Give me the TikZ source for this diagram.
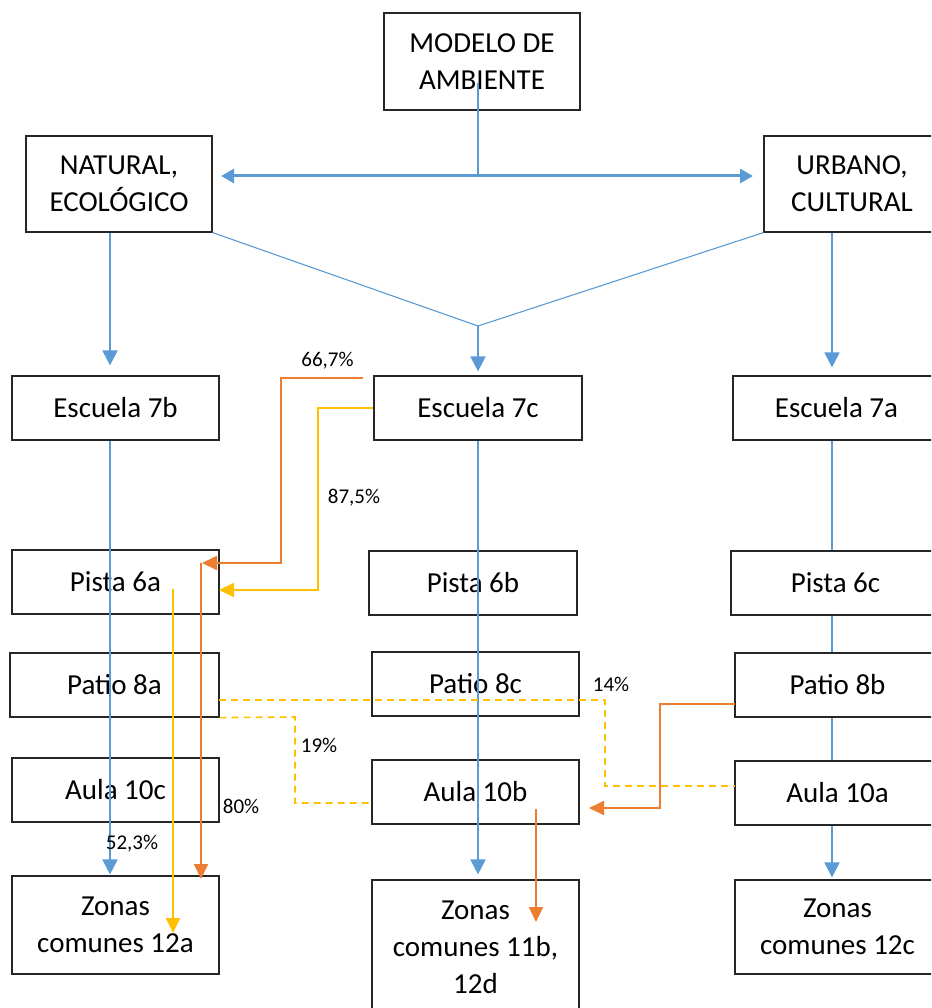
\documentclass[tikz,border=0pt]{standalone}
\usepackage{fontspec}
\setmainfont{Carlito}
\usetikzlibrary{arrows.meta}
\definecolor{cblue}{HTML}{5B9BD5}
\definecolor{corange}{HTML}{ED7D31}
\definecolor{cyellow}{HTML}{FFC000}
\begin{document}
\begin{tikzpicture}[x=1pt,y=-1pt,
  box/.style={draw=black!85, line width=1.2pt, fill=white, inner sep=0pt, align=center, font=\fontsize{29}{37}\selectfont},
  sbox/.style={box, minimum width=207pt, minimum height=64pt},
  lbl/.style={font=\fontsize{21}{25}\selectfont, inner sep=0pt},
  bline/.style={draw=cblue, line width=2pt},
  bthin/.style={draw=cblue, line width=1.1pt},
  barrow/.style={bline, -{Triangle[width=15pt,length=15pt]}},
  dblarrow/.style={draw=cblue, line width=3pt, {Triangle[width=14pt,length=13pt]}-{Triangle[width=14pt,length=13pt]}},
  oarrow/.style={draw=corange, line width=2pt, -{Triangle[width=14pt,length=15pt]}},
  yarrow/.style={draw=cyellow, line width=2pt, -{Triangle[width=14pt,length=15pt]}},
  ydash/.style={draw=cyellow, line width=1.6pt, dash pattern=on 7pt off 5pt}
]
\useasboundingbox (0,0) rectangle (931,1008);
\clip (0,0) rectangle (931,1008);

% column guides
\coordinate (colL) at (110,0);
\coordinate (colM) at (478,0);
\coordinate (colR) at (832,0);

% top boxes
\node[box, minimum width=196pt, minimum height=97pt] (modelo) at (482,61.5) {MODELO DE\\AMBIENTE};
\node[box, minimum width=186pt, minimum height=96pt] (natural) at (119,184) {NATURAL,\\ECOLÓGICO};
\node[box, minimum width=176pt, minimum height=96pt] (urbano) at (852,184) {URBANO,\\CULTURAL};

% rows
\node[sbox] (e7b) at (115.5,408) {Escuela 7b};
\node[sbox, minimum width=208pt] (e7c) at (478,408) {Escuela 7c};
\node[sbox] (e7a) at (836.5,408) {Escuela 7a};

\node[sbox] (p6a) at (115.5,582) {Pista 6a};
\node[sbox, minimum width=208pt] (p6b) at (473,583) {Pista 6b};
\node[sbox, minimum width=209pt] (p6c) at (835.5,583) {Pista 6c};

\node[sbox, minimum width=209pt] (pa8a) at (114.5,685) {Patio 8a};
\node[sbox] (pa8c) at (475.5,684) {Patio 8c};
\node[sbox, minimum width=205pt] (pa8b) at (837.5,685) {Patio 8b};

\node[sbox] (a10c) at (115.5,790) {Aula 10c};
\node[sbox] (a10b) at (475.5,792) {Aula 10b};
\node[sbox, minimum width=205pt] (a10a) at (837.5,793) {Aula 10a};

\node[sbox, minimum height=98pt] (z12a) at (115.5,925) {Zonas\\comunes 12a};
\node[sbox, minimum height=135pt] (z11b) at (475.5,947.5) {Zonas\\comunes 11b,\\12d};
\node[sbox, minimum width=205pt, minimum height=94pt] (z12c) at (837.5,927) {Zonas\\comunes 12c};

% top connectors
\coordinate (m1) at (478,83);
\coordinate (m2) at (478,176);
\coordinate (dl) at (221,176);
\coordinate (dr) at (753,176);
\coordinate (v) at (478,326);
\draw[bthin] (m1) -- (m2);
\draw[dblarrow] (dl) -- (dr);
\draw[bthin] (natural.south east) -- (v) -- (urbano.south west);
\draw[barrow, shorten >=4pt] (v) -- (e7c.north -| colM);
\draw[barrow, shorten >=10pt] (natural.south -| colL) -- (e7b.north -| colL);
\draw[barrow, shorten >=8pt] (urbano.south -| colR) -- (e7a.north -| colR);

% right column (behind boxes look)
\draw[bline] (e7a.south -| colR) -- (p6c.north -| colR);
\draw[bline] (p6c.south -| colR) -- (pa8b.north -| colR);
\draw[bline] (pa8b.south -| colR) -- (a10a.north -| colR);
\draw[barrow, shorten >=2pt] (a10a.south -| colR) -- (z12c.north -| colR);

% left and middle columns (over boxes)
\draw[barrow, shorten >=1pt] (e7b.south -| colL) -- (z12a.north -| colL);
\draw[barrow, shorten >=5pt] (e7c.south -| colM) -- (z11b.north -| colM);

% dashed yellow links
\coordinate (d1s) at (219,700);
\coordinate (d1e) at (735,786);
\draw[ydash] (d1s) -- (605,700) -- (605,786) -- (d1e);
\coordinate (d2e) at (372,803);
\draw[ydash] (pa8a.south east) -- (295,717) -- (295,803) -- (d2e);

% orange and yellow arrows
\coordinate (o1s) at (363,378);
\coordinate (o1t) at (202,563);
\draw[oarrow] (o1s) -- (281,378) -- (281,563) -- (o1t);
\coordinate (o1b) at (201,563);
\coordinate (o1bt) at (201,879);
\draw[oarrow] (o1b) -- (o1bt);

\coordinate (y1t) at (219,590);
\draw[yarrow] (e7c.west) -- (318,408) -- (318,590) -- (y1t);
\coordinate (y2s) at (173,589);
\coordinate (y2t) at (173,933);
\draw[yarrow] (y2s) -- (y2t);

\coordinate (o2s) at (735,704);
\coordinate (o2t) at (589,808);
\draw[oarrow] (o2s) -- (660,704) -- (660,808) -- (o2t);
\coordinate (o3s) at (536,809);
\coordinate (o3t) at (536,922);
\draw[oarrow] (o3s) -- (o3t);

% labels
\node[lbl] (l667) at (327.5,361) {66,7\%};
\node[lbl] (l875) at (354,498) {87,5\%};
\node[lbl] (l80) at (241,806) {80\%};
\node[lbl] (l523) at (132,844) {52,3\%};
\node[lbl] (l19) at (319,745) {19\%};
\node[lbl] (l14) at (611,684) {14\%};
\end{tikzpicture}
\end{document}
